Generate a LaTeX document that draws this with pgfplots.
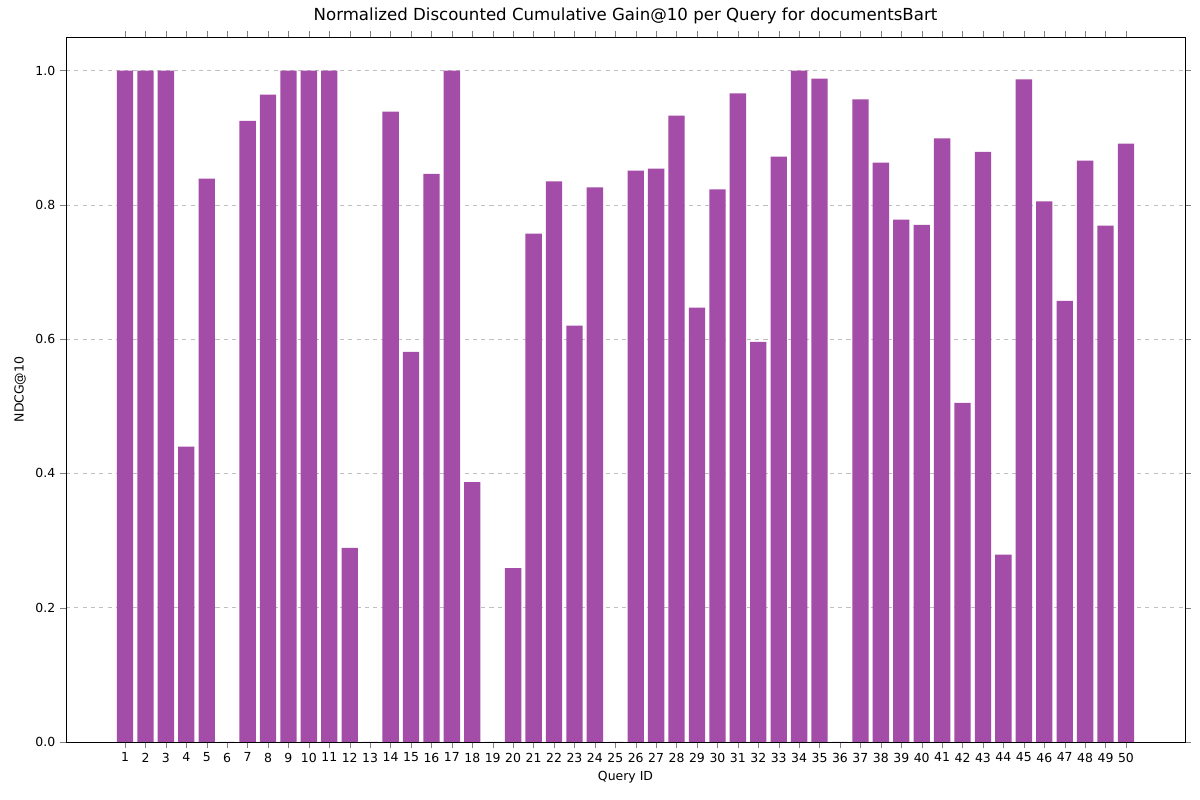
\documentclass[border=0pt]{standalone}
\usepackage{fontspec}
\setmainfont{DejaVu Sans}
\usepackage{pgfplots}
\pgfplotsset{compat=1.18}
\definecolor{barc}{HTML}{A34CA8}
\begin{document}
\begin{tikzpicture}
\path (-0.66in,-0.58in) rectangle (11.34in,7.42in);
\begin{axis}[
  at={(0,0)}, anchor=south west,
  scale only axis, width=11.19in, height=7.05in,
  xmin=-1.89, xmax=52.89, ymin=0, ymax=1.05,
  xtick={1,...,50}, ytick={0,0.2,0.4,0.6,0.8,1.0},
  yticklabel style={/pgf/number format/fixed,/pgf/number format/fixed zerofill,/pgf/number format/precision=1},
  /pgf/number format/assume math mode=true,
  tick label style={font=\small}, tick align=outside,
  ymajorgrids, grid style={dashed, gray!50},
  xlabel={Query ID}, ylabel={NDCG@10},
  label style={font=\small},
  title={Normalized Discounted Cumulative Gain@10 per Query for documentsBart},
  title style={font=\large},
]
\addplot[ybar, bar width=0.8, fill=barc, draw=none] coordinates {
(1,1.0)(2,1.0)(3,1.0)(4,0.44)(5,0.839)(6,0)(7,0.925)(8,0.964)(9,1.0)(10,1.0)
(11,1.0)(12,0.289)(13,0)(14,0.939)(15,0.581)(16,0.846)(17,1.0)(18,0.387)(19,0)(20,0.259)
(21,0.757)(22,0.835)(23,0.620)(24,0.826)(25,0)(26,0.851)(27,0.854)(28,0.933)(29,0.647)(30,0.823)
(31,0.966)(32,0.596)(33,0.872)(34,1.0)(35,0.988)(36,0)(37,0.957)(38,0.863)(39,0.778)(40,0.770)
(41,0.899)(42,0.505)(43,0.879)(44,0.279)(45,0.987)(46,0.805)(47,0.657)(48,0.866)(49,0.769)(50,0.891)
};
\end{axis}
\end{tikzpicture}
\end{document}
